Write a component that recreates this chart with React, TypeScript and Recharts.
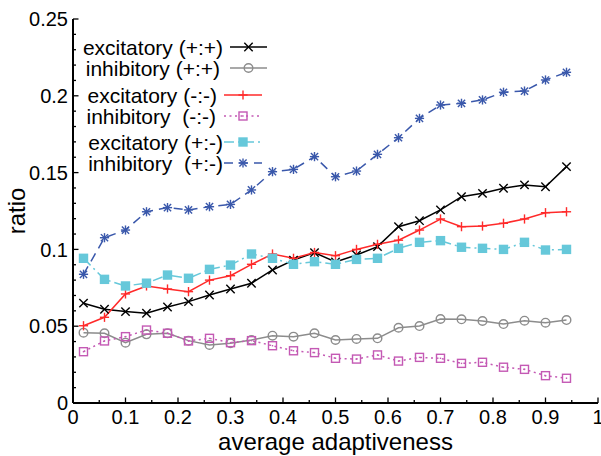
import { LineChart, Line, XAxis, YAxis, Legend } from "recharts"

const FONT = "'Liberation Sans', Arial, Helvetica, sans-serif"

// average adaptiveness (x)
const ADAPT = [0.02, 0.06, 0.1, 0.14, 0.18, 0.22, 0.26, 0.3, 0.34, 0.38, 0.42, 0.46, 0.5, 0.54, 0.58, 0.62, 0.66, 0.7, 0.74, 0.78, 0.82, 0.86, 0.9, 0.94]

// ratio series
const EXC_PP = [0.065, 0.061, 0.0595, 0.0584, 0.0625, 0.066, 0.0703, 0.0742, 0.078, 0.0866, 0.093, 0.0979, 0.0918, 0.0964, 0.1018, 0.1148, 0.1187, 0.1257, 0.1343, 0.1365, 0.1398, 0.142, 0.1408, 0.1539]
const INH_PP = [0.0458, 0.0454, 0.0393, 0.0447, 0.0454, 0.0406, 0.0378, 0.0389, 0.041, 0.0438, 0.0432, 0.0454, 0.041, 0.0417, 0.0421, 0.049, 0.0501, 0.0547, 0.0545, 0.0534, 0.0514, 0.0536, 0.0523, 0.054]
const EXC_MM = [0.0503, 0.0558, 0.071, 0.0762, 0.0742, 0.0725, 0.08, 0.0829, 0.0903, 0.097, 0.0942, 0.098, 0.0959, 0.1, 0.1033, 0.106, 0.1126, 0.1198, 0.1148, 0.1152, 0.117, 0.1198, 0.1239, 0.1245]
const INH_MM = [0.0334, 0.0404, 0.0432, 0.0475, 0.0454, 0.0404, 0.0421, 0.0393, 0.0406, 0.0373, 0.034, 0.0328, 0.0291, 0.0286, 0.0313, 0.0273, 0.0297, 0.0291, 0.0258, 0.0265, 0.0233, 0.0219, 0.0178, 0.0161]
const EXC_PM = [0.0942, 0.0805, 0.0762, 0.078, 0.0833, 0.0812, 0.087, 0.0898, 0.097, 0.0942, 0.0903, 0.092, 0.0903, 0.0935, 0.0942, 0.1007, 0.1046, 0.1057, 0.1014, 0.1007, 0.1, 0.1046, 0.0996, 0.1]
const INH_PM = [0.0838, 0.1076, 0.1126, 0.1245, 0.1272, 0.1257, 0.1278, 0.1293, 0.1387, 0.1506, 0.1521, 0.1604, 0.1473, 0.151, 0.1619, 0.1727, 0.1853, 0.194, 0.1951, 0.1973, 0.2023, 0.2031, 0.2103, 0.2153]

const X_TICKS = [0, 0.05, 0.1, 0.15, 0.2, 0.25, 0.3, 0.35, 0.4, 0.45, 0.5, 0.55, 0.6, 0.65, 0.7, 0.75, 0.8, 0.85, 0.9, 0.95, 1]
const Y_TICKS = [0, 0.01, 0.02, 0.03, 0.04, 0.05, 0.06, 0.07, 0.08, 0.09, 0.1, 0.11, 0.12, 0.13, 0.14, 0.15, 0.16, 0.17, 0.18, 0.19, 0.2, 0.21, 0.22, 0.23, 0.24, 0.25]

const SERIES = [
  { key: "excPP", name: "excitatory (+:+)", values: EXC_PP, color: "#000000", marker: "cross", dash: undefined },
  { key: "inhPP", name: "inhibitory (+:+)", values: INH_PP, color: "#8c8c8c", marker: "circle", dash: undefined },
  { key: "excMM", name: "excitatory (-:-)", values: EXC_MM, color: "#ff2a2a", marker: "plus", dash: undefined },
  { key: "inhMM", name: "inhibitory  (-:-)", values: INH_MM, color: "#c459b4", marker: "square", dash: "2 3.5" },
  { key: "excPM", name: "excitatory (+:-)", values: EXC_PM, color: "#66c8da", marker: "filled", dash: "10 4 2 4" },
  { key: "inhPM", name: "inhibitory  (+:-)", values: INH_PM, color: "#3a58ab", marker: "star", dash: "9 6" },
]

// legend rows: y centre, text right edge, sample start/end
const LEGEND_ROWS = [
  { y: 47, textEnd: 223, x1: 230, x2: 267 },
  { y: 68, textEnd: 220, x1: 230, x2: 267 },
  { y: 95, textEnd: 217, x1: 224, x2: 262 },
  { y: 116, textEnd: 216, x1: 224, x2: 262 },
  { y: 142, textEnd: 223, x1: 224, x2: 262 },
  { y: 163, textEnd: 223, x1: 224, x2: 262 },
]

const data = ADAPT.map((a, i) => {
  const row: Record<string, number> = { a }
  SERIES.forEach((s) => (row[s.key] = s.values[i]))
  return row
})

function Marker({ kind, cx, cy, color }: { kind: string; cx: number; cy: number; color: string }) {
  const w = 1.4
  if (kind === "cross") {
    const d = 4.2
    return (
      <g stroke={color} strokeWidth={w}>
        <line x1={cx - d} y1={cy - d} x2={cx + d} y2={cy + d} />
        <line x1={cx - d} y1={cy + d} x2={cx + d} y2={cy - d} />
      </g>
    )
  }
  if (kind === "circle") return <circle cx={cx} cy={cy} r={4.3} fill="none" stroke={color} strokeWidth={w} />
  if (kind === "plus") {
    const d = 4.6
    return (
      <g stroke={color} strokeWidth={w}>
        <line x1={cx - d} y1={cy} x2={cx + d} y2={cy} />
        <line x1={cx} y1={cy - d} x2={cx} y2={cy + d} />
      </g>
    )
  }
  if (kind === "square")
    return (
      <g>
        <rect x={cx - 4} y={cy - 4} width={8} height={8} fill="none" stroke={color} strokeWidth={w} />
        <rect x={cx - 0.7} y={cy - 0.7} width={1.4} height={1.4} fill={color} />
      </g>
    )
  if (kind === "filled") return <rect x={cx - 4.7} y={cy - 4.7} width={9.4} height={9.4} fill={color} />
  const d = 4.6
  const e = 3.6
  return (
    <g stroke={color} strokeWidth={w}>
      <line x1={cx - d} y1={cy} x2={cx + d} y2={cy} />
      <line x1={cx} y1={cy - d} x2={cx} y2={cy + d} />
      <line x1={cx - e} y1={cy - e} x2={cx + e} y2={cy + e} />
      <line x1={cx - e} y1={cy + e} x2={cx + e} y2={cy - e} />
    </g>
  )
}

const isMajorX = (v: number) => Math.round(v * 100) % 10 === 0
const isMajorY = (v: number) => Math.round(v * 100) % 5 === 0
const fmt = (v: number) => String(Number(v.toFixed(2)))

const BottomTick = ({ x, y, payload }: any) => {
  const major = isMajorX(payload.value)
  return (
    <g>
      <line x1={x} x2={x} y1={y} y2={y - (major ? 5.5 : 3)} stroke="#000" strokeWidth={1.3} />
      {major && (
        <text x={x} y={y + 21} textAnchor="middle" fontSize={20} fontFamily={FONT} fill="#000">
          {fmt(payload.value)}
        </text>
      )}
    </g>
  )
}

const TopTick = ({ x, y, payload }: any) => (
  <line x1={x} x2={x} y1={y} y2={y + (isMajorX(payload.value) ? 5.5 : 3)} stroke="#000" strokeWidth={1.3} />
)

const LeftTick = ({ x, y, payload }: any) => {
  const major = isMajorY(payload.value)
  return (
    <g>
      <line x1={x} x2={x + (major ? 5.5 : 3)} y1={y} y2={y} stroke="#000" strokeWidth={1.3} />
      {major && (
        <text x={x - 5} y={y} dy="0.36em" textAnchor="end" fontSize={20} fontFamily={FONT} fill="#000">
          {fmt(payload.value)}
        </text>
      )}
    </g>
  )
}

const RightTick = ({ x, y, payload }: any) => (
  <line x1={x} x2={x - (isMajorY(payload.value) ? 5.5 : 3)} y1={y} y2={y} stroke="#000" strokeWidth={1.3} />
)

const XTitle = ({ viewBox }: any) => (
  <text x={viewBox.x + viewBox.width / 2} y={450} textAnchor="middle" fontSize={24} fontFamily={FONT} fill="#000">
    average adaptiveness
  </text>
)

const YTitle = ({ viewBox }: any) => {
  const cx = 25
  const cy = viewBox.y + viewBox.height / 2
  return (
    <text x={cx} y={cy} transform={`rotate(-90 ${cx} ${cy})`} textAnchor="middle" fontSize={24} fontFamily={FONT} fill="#000">
      ratio
    </text>
  )
}

const KeyBox = () => (
  <svg width={300} height={180} style={{ display: "block" }}>
    {SERIES.map((s, i) => {
      const r = LEGEND_ROWS[i]
      return (
        <g key={s.key}>
          <text x={r.textEnd} y={r.y} dy="0.36em" textAnchor="end" fontSize={21} fontFamily={FONT} fill="#000" style={{ whiteSpace: "pre" }}>
            {s.name}
          </text>
          <line x1={r.x1} x2={r.x2} y1={r.y} y2={r.y} stroke={s.color} strokeWidth={1.5} strokeDasharray={s.dash} />
          <Marker kind={s.marker} cx={(r.x1 + r.x2) / 2} cy={r.y} color={s.color} />
        </g>
      )
    })}
  </svg>
)

export default function App() {
  return (
    <div style={{ position: "absolute", left: 0, top: 0, background: "#fff" }}>
      <LineChart width={601} height={456} data={data} margin={{ top: 19, right: 3, bottom: 0, left: 0 }}>
        <XAxis
          xAxisId="b"
          dataKey="a"
          type="number"
          domain={[0, 1]}
          ticks={X_TICKS}
          interval={0}
          height={53}
          tickSize={0}
          tickMargin={0}
          tickLine={false}
          tick={<BottomTick />}
          axisLine={{ stroke: "#000", strokeWidth: 2 }}
          label={<XTitle />}
        />
        <XAxis
          xAxisId="t"
          orientation="top"
          dataKey="a"
          type="number"
          domain={[0, 1]}
          ticks={X_TICKS}
          interval={0}
          height={0}
          tickSize={0}
          tickMargin={0}
          tickLine={false}
          tick={<TopTick />}
          axisLine={{ stroke: "#000", strokeWidth: 2 }}
        />
        <YAxis
          yAxisId="l"
          type="number"
          domain={[0, 0.25]}
          ticks={Y_TICKS}
          interval={0}
          width={73}
          tickSize={0}
          tickMargin={0}
          tickLine={false}
          tick={<LeftTick />}
          axisLine={{ stroke: "#000", strokeWidth: 2 }}
          label={<YTitle />}
        />
        <YAxis
          yAxisId="r"
          orientation="right"
          type="number"
          domain={[0, 0.25]}
          ticks={Y_TICKS}
          interval={0}
          width={0}
          tickSize={0}
          tickMargin={0}
          tickLine={false}
          tick={<RightTick />}
          axisLine={{ stroke: "#000", strokeWidth: 2 }}
        />
        <Legend
          content={<KeyBox />}
          layout="vertical"
          align="center"
          verticalAlign="middle"
          wrapperStyle={{ position: "absolute", left: 0, top: 0, width: 300, height: 180 }}
        />
        {SERIES.map((s) => (
          <Line
            key={s.key}
            xAxisId="b"
            yAxisId="l"
            dataKey={s.key}
            name={s.name}
            stroke={s.color}
            strokeWidth={1.5}
            strokeDasharray={s.dash}
            type="linear"
            dot={(p: any) => <Marker key={`${s.key}-${p.index}`} kind={s.marker} cx={p.cx} cy={p.cy} color={s.color} />}
            activeDot={false}
            isAnimationActive={false}
          />
        ))}
      </LineChart>
    </div>
  )
}
